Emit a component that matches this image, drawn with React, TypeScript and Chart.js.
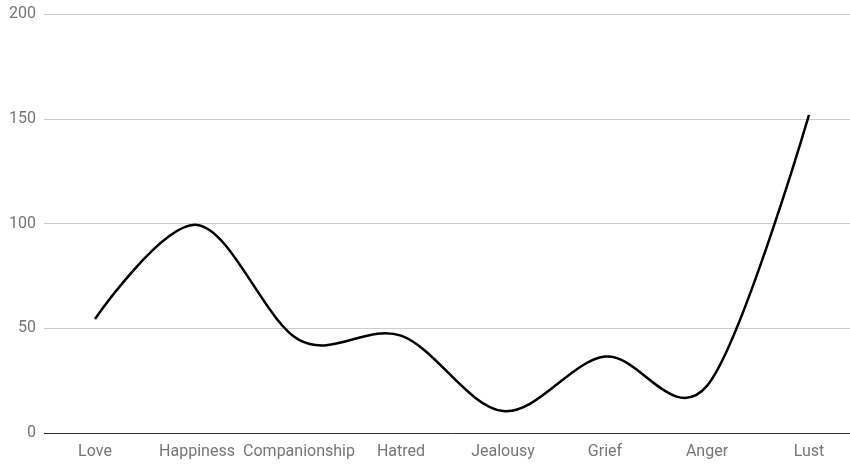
import React, { useEffect, useRef } from "react";
import { Chart, registerables } from "chart.js";

Chart.register(...registerables);

const categories = ["Love", "Happiness", "Companionship", "Hatred", "Jealousy", "Grief", "Anger", "Lust"];
const values = [54.5, 99.4, 44.5, 46.5, 10.5, 36.5, 22.5, 152];
const yTicks = [0, 50, 100, 150, 200];

const FONT = "Roboto, 'Noto Sans', sans-serif";
const LABEL_COLOR = "#757575";

// Re-shape the line's bezier handles as a Catmull-Rom spline in pixel space,
// so every point's tangent follows the chord between its two neighbours.
const catmullRom = {
  id: "catmullRom",
  beforeDatasetDraw(chart: any, args: any) {
    const line = args.meta.dataset;
    if (!line) return;
    const pts = line.points;
    const n = pts.length;
    for (let i = 0; i < n; i++) {
      const p = pts[i];
      if (i === 0 || i === n - 1) {
        p.cp1x = p.x;
        p.cp1y = p.y;
        p.cp2x = p.x;
        p.cp2y = p.y;
        continue;
      }
      const prev = pts[i - 1];
      const next = pts[i + 1];
      const dx = (next.x - prev.x) / 6;
      const dy = (next.y - prev.y) / 6;
      p.cp1x = p.x - dx;
      p.cp1y = p.y - dy;
      p.cp2x = p.x + dx;
      p.cp2y = p.y + dy;
    }
  },
};

export default function App() {
  const canvasRef = useRef<HTMLCanvasElement | null>(null);

  useEffect(() => {
    document.body.style.margin = "0";
    const ctx = canvasRef.current;
    if (!ctx) return;
    const chart = new Chart(ctx, {
      type: "line",
      data: {
        labels: categories,
        datasets: [
          {
            data: values,
            borderColor: "#000000",
            borderWidth: 2.5,
            pointRadius: 0,
            pointHoverRadius: 0,
            tension: 0.4,
            fill: false,
          },
        ],
      },
      options: {
        responsive: false,
        animation: false,
        maintainAspectRatio: false,
        layout: { padding: { top: 0, right: 0, bottom: 0, left: 0 } },
        plugins: { legend: { display: false }, tooltip: { enabled: false } },
        scales: {
          x: {
            type: "category",
            offset: true,
            grid: { display: false, drawTicks: false },
            border: { display: true, color: "#333333", width: 1 },
            ticks: {
              color: LABEL_COLOR,
              font: { family: FONT, size: 16 },
              padding: 9,
              maxRotation: 0,
              autoSkip: false,
            },
            afterFit: (scale: any) => {
              scale.height = 31;
            },
          },
          y: {
            min: 0,
            max: 200,
            afterBuildTicks: (scale: any) => {
              scale.ticks = yTicks.map((v) => ({ value: v }));
            },
            grid: { color: "#cccccc", lineWidth: 1, drawTicks: false },
            border: { display: false },
            ticks: {
              color: LABEL_COLOR,
              font: { family: FONT, size: 16, lineHeight: 0.8 },
              padding: 8,
            },
            afterFit: (scale: any) => {
              scale.width = 44;
            },
          },
        },
      },
      plugins: [catmullRom],
    });
    return () => chart.destroy();
  }, []);

  return (
    <div style={{ position: "relative", width: 850, height: 464, overflow: "hidden", background: "#ffffff" }}>
      <canvas ref={canvasRef} width={860} height={464} style={{ display: "block" }} />
    </div>
  );
}
